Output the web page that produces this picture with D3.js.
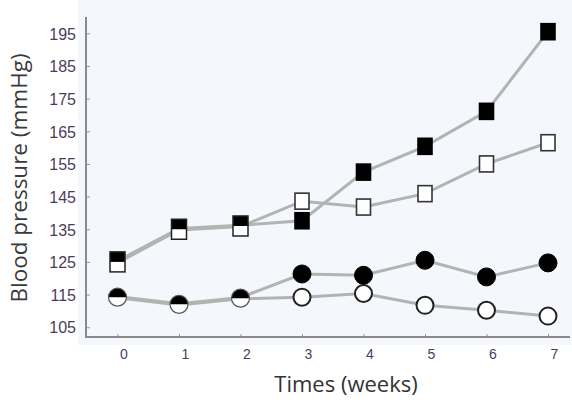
<!DOCTYPE html>
<html>
<head>
<meta charset="utf-8">
<script src="https://cdn.jsdelivr.net/npm/d3@7.9.0/dist/d3.min.js"></script>
<style>
  body { margin: 0; background: #fff; }
  svg { display: block; }
</style>
</head>
<body>
<div id="chart"></div>
<script>
// Data
const weeks = [0, 1, 2, 3, 4, 5, 6, 7];
const filledSquare = [125.3, 135.2, 136.2, 137.6, 152.5, 160.4, 171.1, 195.5];
const openSquare   = [124.7, 134.8, 135.8, 143.6, 141.8, 145.9, 155.0, 161.5];
const filledCircle = [114.4, 112.2, 114.1, 121.3, 120.9, 125.5, 120.4, 124.7];
const openCircle   = [114.0, 111.8, 113.7, 114.2, 115.3, 111.7, 110.2, 108.4];
const yTicks = [105, 115, 125, 135, 145, 155, 165, 175, 185, 195];

const width = 572;
const height = 400;

const svg = d3.select('#chart')
  .append('svg')
  .attr('width', width)
  .attr('height', height);

// faint tinted plot background
svg.append('rect')
  .attr('x', 78).attr('y', 0)
  .attr('width', width - 78).attr('height', 345)
  .attr('fill', '#f4f7fb');

// Scales
const x = d3.scaleLinear().domain([0, 7]).range([117.5, 548]);
const y = d3.scaleLinear().domain([102, 200]).range([337, 17]);

// Axes
const yAxis = d3.axisLeft(y).tickValues(yTicks).tickSize(-4);
const xAxis = d3.axisBottom(x).tickValues(weeks).tickSize(-3).tickPadding(12)
  .tickFormat(d3.format('d'));

const gy = svg.append('g')
  .attr('transform', 'translate(86,0)')
  .call(yAxis);
gy.select('.domain').remove();
gy.selectAll('.tick line').attr('stroke', '#999');
gy.selectAll('.tick text')
  .attr('font-family', '"Liberation Sans", Arial, sans-serif')
  .attr('font-size', 16)
  .attr('fill', '#4a3d5c')
  .attr('dy', '0.36em')
  .attr('x', -10);

const gx = svg.append('g')
  .attr('transform', 'translate(0,337)')
  .call(xAxis);
gx.select('.domain').remove();
gx.selectAll('.tick line').attr('stroke', '#999');
gx.selectAll('.tick text')
  .attr('font-family', '"Liberation Sans", Arial, sans-serif')
  .attr('font-size', 14)
  .attr('fill', '#4a3d5c')
  .attr('dx', 6);

// axis lines (L shape)
svg.append('path')
  .attr('d', `M86,${y(200)}V${y(102)}H570`)
  .attr('fill', 'none')
  .attr('stroke', '#8a8a8a')
  .attr('stroke-width', 2);

// Axis titles
svg.append('text')
  .attr('x', 346)
  .attr('y', 392)
  .attr('text-anchor', 'middle')
  .attr('font-family', '"Open Sans", sans-serif')
  .attr('font-size', 22)
  .attr('fill', '#333')
  .text('Times (weeks)');

svg.append('text')
  .attr('transform', 'translate(27,178) rotate(-90)')
  .attr('text-anchor', 'middle')
  .attr('font-family', '"Open Sans", sans-serif')
  .attr('font-size', 22.5)
  .attr('fill', '#3a3a3a')
  .text('Blood pressure (mmHg)');

// Lines
const line = d3.line()
  .x((d, i) => x(weeks[i]))
  .y((d) => y(d));

[openCircle, filledCircle, openSquare, filledSquare].forEach((s) => {
  svg.append('path')
    .datum(s)
    .attr('d', line)
    .attr('fill', 'none')
    .attr('stroke', '#b3b3b3')
    .attr('stroke-width', 3);
});

// Markers: where the two groups nearly coincide the figure shows a split glyph
const sqW = 14, sqH = 16, r = 9;
const pairs = [
  { shape: 'square', filled: filledSquare, open: openSquare },
  { shape: 'circle', filled: filledCircle, open: openCircle },
];

pairs.forEach((p) => {
  const g = svg.append('g');
  weeks.forEach((w, i) => {
    const a = p.filled[i], b = p.open[i];
    const cx = x(w);
    if (Math.abs(a - b) < 2.5) {
      const cy = y((a + b) / 2);
      if (p.shape === 'square') {
        const W = 15, H = 20;
        g.append('rect').attr('x', cx - W / 2).attr('y', cy - H / 2)
          .attr('width', W).attr('height', H).attr('fill', '#fff');
        g.append('rect').attr('x', cx - W / 2).attr('y', cy - H / 2)
          .attr('width', W).attr('height', H / 2).attr('fill', '#000');
        g.append('rect').attr('x', cx - W / 2).attr('y', cy - H / 2)
          .attr('width', W).attr('height', H)
          .attr('fill', 'none').attr('stroke', '#222').attr('stroke-width', 1.5);
      } else {
        g.append('circle').attr('cx', cx).attr('cy', cy).attr('r', r).attr('fill', '#fff');
        g.append('path')
          .attr('d', `M${cx - r},${cy}A${r},${r} 0 0 1 ${cx + r},${cy}Z`)
          .attr('fill', '#000');
        g.append('circle').attr('cx', cx).attr('cy', cy).attr('r', r)
          .attr('fill', 'none').attr('stroke', '#555').attr('stroke-width', 1.2);
      }
    } else {
      [[b, false], [a, true]].forEach(([v, fill]) => {
        const cy = y(v);
        if (p.shape === 'square') {
          g.append('rect')
            .attr('x', cx - sqW / 2).attr('y', cy - sqH / 2)
            .attr('width', sqW).attr('height', sqH)
            .attr('fill', fill ? '#000' : '#fff')
            .attr('stroke', fill ? '#000' : '#333')
            .attr('stroke-width', 1.6);
        } else {
          g.append('circle')
            .attr('cx', cx).attr('cy', cy).attr('r', fill ? 9 : 8.5)
            .attr('fill', fill ? '#000' : '#fff')
            .attr('stroke', fill ? '#000' : '#222')
            .attr('stroke-width', fill ? 1 : 2);
        }
      });
    }
  });
});
</script>
</body>
</html>
